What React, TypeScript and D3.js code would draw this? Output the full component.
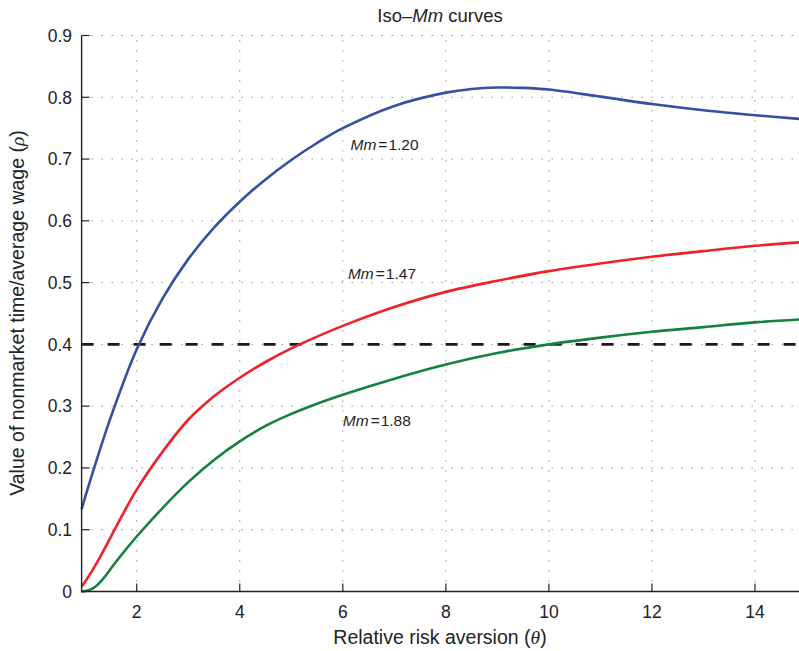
import React from "react";
import * as d3 from "d3";

const thetaBlue = [0.93, 1.0, 1.2, 1.5, 2, 2.5, 3, 3.5, 4, 4.5, 5, 5.5, 6, 7, 8, 8.5, 9, 9.5, 10, 11, 12, 13, 14, 15];
const rhoBlue = [0.133, 0.153, 0.207, 0.283, 0.392, 0.474, 0.538, 0.589, 0.631, 0.667, 0.6985, 0.726, 0.75, 0.786, 0.8075, 0.8135, 0.8158, 0.8152, 0.8125, 0.801, 0.789, 0.779, 0.771, 0.764];

const thetaRed = [0.93, 1.0, 1.25, 1.5, 1.75, 2, 2.5, 3, 3.5, 4, 4.5, 5, 5.5, 6, 7, 8, 9, 10, 11, 12, 13, 14, 15];
const rhoRed = [0.008, 0.016, 0.05, 0.089, 0.128, 0.165, 0.226, 0.278, 0.316, 0.346, 0.3715, 0.3935, 0.4125, 0.43, 0.4605, 0.485, 0.503, 0.5186, 0.531, 0.5418, 0.551, 0.5596, 0.566];

const thetaGreen = [0.93, 1.0, 1.1, 1.2, 1.3, 1.4, 1.55, 1.75, 2, 2.5, 3, 3.5, 4, 4.5, 5, 5.5, 6, 7, 8, 9, 10, 11, 12, 13, 14, 15];
const rhoGreen = [0.0, 0.0008, 0.003, 0.008, 0.016, 0.026, 0.043, 0.064, 0.089, 0.135, 0.177, 0.213, 0.243, 0.268, 0.2875, 0.304, 0.3185, 0.3445, 0.3675, 0.386, 0.4, 0.411, 0.4204, 0.428, 0.4356, 0.441];

const curveLabels = ["1.20", "1.47", "1.88"];
const labelTheta = [6.15, 6.1, 6.0];
const labelRho = [0.714, 0.506, 0.268];

const xTicks = [2, 4, 6, 8, 10, 12, 14];
const yTicks = [0, 0.1, 0.2, 0.3, 0.4, 0.5, 0.6, 0.7, 0.8, 0.9];
const refRho = 0.4;

const W = 799;
const H = 651;

export default function App() {
  const x = d3.scaleLinear().domain([0.93, 15]).range([81.6, 806.5]);
  const y = d3.scaleLinear().domain([0, 0.9]).range([591.5, 35.5]);
  const line = d3
    .line<[number, number]>()
    .x((d) => x(d[0]))
    .y((d) => y(d[1]))
    .curve(d3.curveCatmullRom.alpha(0.5));

  const series = [
    { t: thetaBlue, r: rhoBlue, color: "#3350a2" },
    { t: thetaRed, r: rhoRed, color: "#ee2227" },
    { t: thetaGreen, r: rhoGreen, color: "#13813f" },
  ];

  const x0 = x(0.93);
  const xEnd = W + 10;
  const yBottom = y(0);
  const yTop = y(0.9);
  const font = "'Liberation Sans', Arial, Helvetica, sans-serif";
  const gridStyle = { stroke: "#777", strokeWidth: 1, strokeDasharray: "1.2,8.8" };

  return (
    <svg
      width={W}
      height={H}
      style={{ position: "absolute", left: 0, top: 0, background: "#fff" }}
      fontFamily={font}
    >
      {/* grid */}
      {xTicks.map((t) => (
        <line key={"gx" + t} x1={x(t)} x2={x(t)} y1={yBottom} y2={yTop} {...gridStyle} />
      ))}
      {yTicks.filter((t) => t > 0).map((t) => (
        <line key={"gy" + t} x1={x0} x2={xEnd} y1={y(t)} y2={y(t)} {...gridStyle} />
      ))}

      {/* reference line */}
      <line
        x1={x0}
        x2={xEnd}
        y1={y(refRho)}
        y2={y(refRho)}
        stroke="#1a1a1a"
        strokeWidth={2.6}
        strokeDasharray="12,14"
      />

      {/* curves */}
      {series.map((s, i) => (
        <path
          key={i}
          d={line(s.t.map((t, j) => [t, s.r[j]] as [number, number])) || ""}
          fill="none"
          stroke={s.color}
          strokeWidth={2.6}
        />
      ))}

      {/* axes */}
      <line x1={x0} x2={x0} y1={yBottom + 0.7} y2={yTop} stroke="#222" strokeWidth={1.4} />
      <line x1={x0} x2={xEnd} y1={yBottom} y2={yBottom} stroke="#222" strokeWidth={1.4} />
      {yTicks.map((t) => (
        <g key={"yt" + t}>
          <line x1={x0} x2={x0 + 8} y1={y(t)} y2={y(t)} stroke="#222" strokeWidth={1.2} />
          <text x={72} y={y(t)} dy="0.36em" textAnchor="end" fontSize={17.5} fill="#222">
            {t === 0 ? "0" : t.toFixed(1)}
          </text>
        </g>
      ))}
      {xTicks.map((t) => (
        <g key={"xt" + t}>
          <line x1={x(t)} x2={x(t)} y1={yBottom} y2={yBottom - 8} stroke="#222" strokeWidth={1.2} />
          <text x={x(t)} y={618} textAnchor="middle" fontSize={17.5} fill="#222">
            {t}
          </text>
        </g>
      ))}

      {/* curve labels */}
      {curveLabels.map((l, i) => (
        <text key={"cl" + i} x={x(labelTheta[i])} y={y(labelRho[i])} fontSize={15.5} fill="#222">
          <tspan fontStyle="italic">Mm</tspan>
          <tspan dx={2}>=</tspan>
          <tspan dx={1}>{l}</tspan>
        </text>
      ))}

      {/* title */}
      <text x={440} y={22} textAnchor="middle" fontSize={18.5} fill="#222">
        Iso–<tspan fontStyle="italic">Mm</tspan> curves
      </text>

      {/* x label */}
      <text x={440} y={644} textAnchor="middle" fontSize={19.5} fill="#222">
        Relative risk aversion (<tspan fontStyle="italic" fontFamily="'Liberation Serif', serif">θ</tspan>)
      </text>

      {/* y label */}
      <text
        transform={`translate(24, 313) rotate(-90)`}
        textAnchor="middle"
        fontSize={19.5}
        fill="#222"
      >
        Value of nonmarket time/average wage (<tspan fontStyle="italic" fontFamily="'Liberation Serif', serif">ρ</tspan>)
      </text>
    </svg>
  );
}
